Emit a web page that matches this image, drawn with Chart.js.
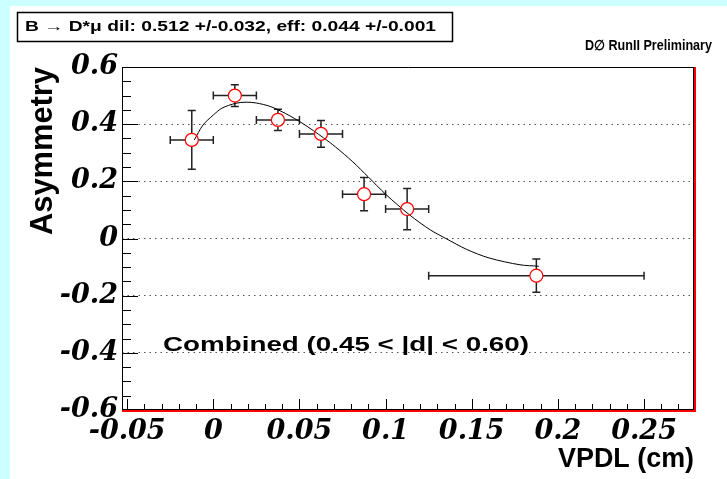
<!DOCTYPE html>
<html>
<head>
<meta charset="utf-8">
<script src="https://cdn.jsdelivr.net/npm/chart.js@4/dist/chart.umd.min.js"></script>
<style>
    body { margin: 0; background: #ccffff; }
    #asymChart { display: block; }
</style>
</head>
<body>
<canvas id="asymChart" width="727" height="479"></canvas>
<script>
// measured points (bin centre, asymmetry) with errors
const vpdl = [-0.0125, 0.0125, 0.0375, 0.0625, 0.0875, 0.1125, 0.1875];
const asym = [0.345, 0.500, 0.415, 0.366, 0.155, 0.103, -0.130];
const vpdlErr = [0.0125, 0.0125, 0.0125, 0.0125, 0.0125, 0.0125, 0.0625];
const asymErr = [0.103, 0.038, 0.037, 0.047, 0.058, 0.072, 0.058];

// fit curve
const fitX = [-0.011, -0.006, 0.0, 0.005, 0.013, 0.019, 0.025, 0.033, 0.042, 0.052, 0.064, 0.071, 0.081, 0.090, 0.100, 0.114, 0.126, 0.135, 0.147, 0.160, 0.178, 0.189];
const fitY = [0.345, 0.397, 0.432, 0.456, 0.473, 0.477, 0.474, 0.462, 0.437, 0.402, 0.352, 0.320, 0.268, 0.215, 0.155, 0.082, 0.030, 0.0, -0.038, -0.068, -0.092, -0.097];

const xTicks = [-0.05, 0, 0.05, 0.1, 0.15, 0.2, 0.25];
const yTicks = [-0.6, -0.4, -0.2, 0, 0.2, 0.4, 0.6];

const titleText = 'B \u2192 D*\u03bc dil: 0.512 +/-0.032, eff: 0.044 +/-0.001';
const labelText = 'Combined (0.45 < |d| < 0.60)';

// draw text squeezed/stretched to a given width
function fitText(ctx, text, x, y, font, width, align) {
    ctx.save();
    ctx.font = font;
    const w = ctx.measureText(text).width;
    const sx = width / w;
    ctx.translate(x, y);
    ctx.scale(sx, 1);
    ctx.textAlign = align || 'left';
    ctx.textBaseline = 'middle';
    ctx.fillStyle = '#000';
    ctx.fillText(text, 0, 0);
    ctx.restore();
}

const backgroundPlugin = {
    id: 'background',
    beforeDraw(chart) {
        const ctx = chart.ctx;
        ctx.save();
        ctx.fillStyle = '#ccffff';
        ctx.fillRect(0, 0, chart.width, chart.height);
        ctx.fillStyle = '#ffffff';
        ctx.fillRect(10, 6, chart.width - 10, chart.height - 6);
        ctx.restore();
    }
};

const framePlugin = {
    id: 'frame',
    beforeDatasetsDraw(chart) {
        const ctx = chart.ctx;
        const a = chart.chartArea;
        const xs = chart.scales.x;
        const ys = chart.scales.y;
        ctx.save();
        ctx.strokeStyle = '#000';
        ctx.lineWidth = 1;
        ctx.beginPath();

        // y ticks, major every 0.2, minor every 0.05
        for (let i = -12; i <= 12; i++) {
            const v = i * 0.05;
            const py = Math.round(ys.getPixelForValue(v)) + 0.5;
            const len = (i % 4 === 0) ? 16 : 9;
            ctx.moveTo(a.left, py);
            ctx.lineTo(a.left + len, py);
        }
        // x ticks, major every 0.05, minor every 0.01
        for (let i = -5; i <= 27; i++) {
            const v = i * 0.01;
            const px = Math.round(xs.getPixelForValue(v)) + 0.5;
            const len = (i % 5 === 0) ? 11 : 6;
            ctx.moveTo(px, a.bottom);
            ctx.lineTo(px, a.bottom - len);
        }
        ctx.stroke();

        // frame: black left/top, red right/bottom
        ctx.beginPath();
        ctx.moveTo(a.left + 0.5, a.bottom);
        ctx.lineTo(a.left + 0.5, a.top + 0.5);
        ctx.lineTo(a.right, a.top + 0.5);
        ctx.moveTo(a.left, a.bottom - 0.5);
        ctx.lineTo(a.right, a.bottom - 0.5);
        ctx.moveTo(a.right - 0.5, a.top);
        ctx.lineTo(a.right - 0.5, a.bottom);
        ctx.stroke();
        ctx.strokeStyle = '#ff0000';
        ctx.lineWidth = 2;
        ctx.beginPath();
        ctx.moveTo(a.left, a.bottom + 1);
        ctx.lineTo(a.right + 2, a.bottom + 1);
        ctx.moveTo(a.right + 1, a.top);
        ctx.lineTo(a.right + 1, a.bottom + 2);
        ctx.stroke();

        // error bars, stopping at the marker
        const r = 6.5;
        ctx.strokeStyle = '#222';
        ctx.lineWidth = 1.5;
        ctx.beginPath();
        vpdl.forEach((x, i) => {
            const cx = xs.getPixelForValue(x);
            const cy = ys.getPixelForValue(asym[i]);
            const x0 = xs.getPixelForValue(x - vpdlErr[i]);
            const x1 = xs.getPixelForValue(x + vpdlErr[i]);
            const y0 = ys.getPixelForValue(asym[i] + asymErr[i]);
            const y1 = ys.getPixelForValue(asym[i] - asymErr[i]);
            ctx.moveTo(x0, cy); ctx.lineTo(cx - r, cy);
            ctx.moveTo(cx + r, cy); ctx.lineTo(x1, cy);
            ctx.moveTo(cx, y0); ctx.lineTo(cx, cy - r);
            ctx.moveTo(cx, cy + r); ctx.lineTo(cx, y1);
            // end caps
            ctx.moveTo(x0, cy - 4); ctx.lineTo(x0, cy + 4);
            ctx.moveTo(x1, cy - 4); ctx.lineTo(x1, cy + 4);
            ctx.moveTo(cx - 4, y0); ctx.lineTo(cx + 4, y0);
            ctx.moveTo(cx - 4, y1); ctx.lineTo(cx + 4, y1);
        });
        ctx.stroke();
        ctx.restore();
    }
};

const textPlugin = {
    id: 'texts',
    afterDraw(chart) {
        const ctx = chart.ctx;
        const a = chart.chartArea;
        ctx.save();
        // stats box
        ctx.fillStyle = '#fff';
        ctx.fillRect(17, 12, 435, 29);
        ctx.strokeStyle = '#000';
        ctx.lineWidth = 1.5;
        ctx.strokeRect(17.5, 12.5, 435, 29);
        fitText(ctx, titleText, 25, 27, 'bold 14px "Liberation Sans", Arial', 411);
        fitText(ctx, 'D\u2205 RunII Preliminary', 712, 46, 'bold 14px "Liberation Sans", Arial', 127, 'right');
        fitText(ctx, labelText, 163, 345, 'bold 21px "Liberation Sans", Arial', 366);
        fitText(ctx, 'VPDL (cm)', a.right, 460, 'bold 27px "Liberation Sans", Arial', 136, 'right');
        // y title, rotated, aligned to the top of the axis
        ctx.save();
        ctx.translate(43, a.top);
        ctx.rotate(-Math.PI / 2);
        fitText(ctx, 'Asymmetry', 0, 0, 'bold 32px "Liberation Sans", Arial', 168, 'right');
        ctx.restore();
        ctx.restore();
    }
};

const tickFont = { family: '"DejaVu Serif", "Liberation Serif", serif', style: 'italic', weight: 'bold', size: 27 };

const ctx = document.getElementById('asymChart').getContext('2d');
const asymChart = new Chart(ctx, {
    type: 'scatter',
    data: {
        datasets: [{
            label: 'fit',
            data: fitX.map((x, i) => ({ x: x, y: fitY[i] })),
            showLine: true,
            borderColor: '#000',
            borderWidth: 1,
            pointRadius: 0,
            tension: 0.3,
            order: 2
        }, {
            label: 'data',
            data: vpdl.map((x, i) => ({ x: x, y: asym[i] })),
            pointStyle: 'circle',
            pointRadius: 6.5,
            pointBorderColor: '#ff0000',
            pointBackgroundColor: 'rgba(0,0,0,0)',
            pointBorderWidth: 1.2,
            order: 1
        }]
    },
    options: {
        responsive: false,
        animation: false,
        devicePixelRatio: 1,
        layout: { padding: { left: 10, top: 67, right: 33, bottom: 0 } },
        plugins: { legend: { display: false }, tooltip: { enabled: false } },
        scales: {
            x: {
                type: 'linear',
                min: -0.053,
                max: 0.279,
                afterBuildTicks: s => { s.ticks = xTicks.map(v => ({ value: v })); },
                afterFit: s => { s.height = 69; },
                grid: { display: false, drawTicks: false },
                border: { display: false },
                ticks: {
                    font: tickFont,
                    color: '#000',
                    padding: 6,
                    maxRotation: 0,
                    autoSkip: false,
                    callback: v => String(+v.toFixed(3))
                }
            },
            y: {
                type: 'linear',
                min: -0.6,
                max: 0.6,
                afterBuildTicks: s => { s.ticks = yTicks.map(v => ({ value: v })); },
                afterFit: s => { s.width = 112; },
                grid: {
                    drawTicks: false,
                    lineWidth: 1,
                    color: c => (Math.abs(c.tick.value) > 0.55 ? 'rgba(0,0,0,0)' : '#555')
                },
                border: { display: false, dash: [1.5, 4] },
                ticks: {
                    font: tickFont,
                    color: '#000',
                    padding: 4,
                    autoSkip: false,
                    callback: v => String(+v.toFixed(2))
                }
            }
        }
    },
    plugins: [backgroundPlugin, framePlugin, textPlugin]
});
</script>
</body>
</html>
